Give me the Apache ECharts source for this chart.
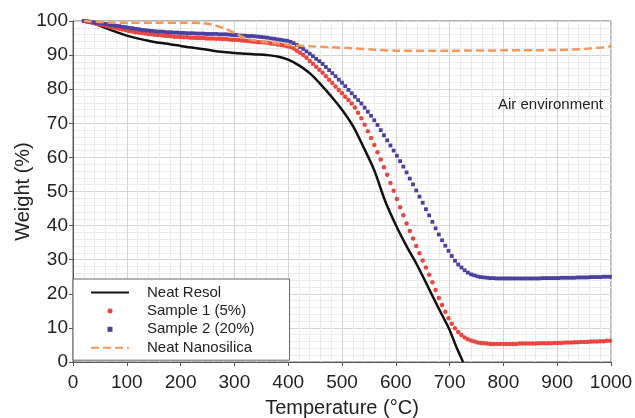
<!DOCTYPE html>
<html>
<head>
<meta charset="utf-8">
<script src="https://cdn.jsdelivr.net/npm/echarts@6/dist/echarts.min.js"></script>
<style>
  html, body { margin: 0; padding: 0; background: #fff; }
  #chart { width: 635px; height: 418px; }
</style>
</head>
<body>
<div id="chart"></div>
<script>
// Thermogravimetric curves in air: weight (%) versus temperature (°C)

const seriesNames = ['Neat Resol', 'Sample 1 (5%)', 'Sample 2 (20%)', 'Neat Nanosilica'];

// Neat resol (solid line)
const resolTemp = [20, 40, 60, 80, 100, 120, 140, 160, 180, 200, 220, 240, 260, 280, 300, 320, 340, 360, 380, 400,
  420, 440, 460, 480, 500, 520, 540, 560, 580, 600, 620, 640, 660, 680, 700, 712, 725];
const resolWeight = [100, 99.2, 98.0, 96.8, 95.7, 94.9, 94.2, 93.6, 93.2, 92.7, 92.2, 91.8, 91.3, 90.9, 90.6, 90.4, 90.2, 90.0, 89.6, 88.7,
  87.0, 84.7, 81.5, 77.9, 74.0, 69.3, 63.0, 56.2, 47.3, 40.2, 34.0, 28.3, 22.0, 15.6, 9.4, 4.6, 0];

// Neat nanosilica (dashed line)
const silicaTemp = [20, 40, 60, 80, 100, 150, 200, 240, 260, 280, 300, 320, 340, 360, 380, 400, 440, 480, 520, 560,
  600, 700, 800, 900, 950, 980, 1000];
const silicaWeight = [100, 99.8, 99.6, 99.5, 99.5, 99.5, 99.5, 99.4, 98.9, 97.9, 96.5, 95.0, 94.2, 93.7, 93.4, 93.0, 92.6, 92.3, 92.0, 91.6,
  91.3, 91.3, 91.4, 91.5, 91.8, 92.2, 92.6];

// Composite samples are recorded every 6 °C from 20 °C to 998 °C
const sampleStart = 20, sampleStep = 6;
const sample1Weight = [
  100.0, 99.8, 99.6, 99.4, 99.2, 99.0, 98.8, 98.5, 98.3, 98.1,
  97.9, 97.7, 97.5, 97.3, 97.1, 96.9, 96.7, 96.6, 96.5, 96.3,
  96.2, 96.1, 96.0, 95.9, 95.8, 95.7, 95.6, 95.5, 95.4, 95.4,
  95.3, 95.2, 95.2, 95.1, 95.1, 95.0, 95.0, 95.0, 94.9, 94.9,
  94.9, 94.8, 94.8, 94.7, 94.7, 94.6, 94.5, 94.5, 94.4, 94.3,
  94.2, 94.1, 94.0, 93.9, 93.8, 93.8, 93.7, 93.6, 93.4, 93.3,
  93.1, 93.0, 92.8, 92.6, 92.4, 91.9, 91.3, 90.7, 90.0, 89.2,
  88.3, 87.5, 86.6, 85.7, 84.8, 83.8, 82.8, 81.8, 80.8, 79.8,
  78.8, 77.8, 76.8, 75.8, 74.6, 73.1, 71.5, 69.6, 67.7, 65.7,
  63.6, 61.5, 59.4, 57.1, 54.9, 52.5, 50.2, 47.8, 45.4, 43.0,
  40.6, 38.4, 36.2, 34.0, 31.9, 29.8, 27.7, 25.6, 23.4, 21.1,
  18.8, 16.7, 14.7, 12.8, 11.2, 9.9, 8.8, 7.9, 7.2, 6.7,
  6.3, 6.0, 5.7, 5.6, 5.5, 5.4, 5.3, 5.3, 5.3, 5.3,
  5.3, 5.3, 5.3, 5.3, 5.3, 5.4, 5.4, 5.4, 5.4, 5.4,
  5.4, 5.5, 5.5, 5.5, 5.5, 5.5, 5.6, 5.6, 5.6, 5.7,
  5.7, 5.7, 5.8, 5.8, 5.9, 5.9, 5.9, 6.0, 6.0, 6.0,
  6.1, 6.1, 6.2, 6.2
];
const sample2Weight = [
  100.0, 99.9, 99.8, 99.6, 99.5, 99.4, 99.2, 99.1, 98.9, 98.8,
  98.6, 98.5, 98.3, 98.2, 98.0, 97.9, 97.7, 97.6, 97.4, 97.3,
  97.2, 97.1, 97.0, 96.9, 96.9, 96.8, 96.7, 96.7, 96.6, 96.6,
  96.5, 96.5, 96.4, 96.4, 96.4, 96.3, 96.3, 96.3, 96.2, 96.2,
  96.2, 96.2, 96.1, 96.1, 96.1, 96.0, 95.9, 95.9, 95.8, 95.7,
  95.7, 95.6, 95.6, 95.5, 95.4, 95.3, 95.2, 95.1, 94.9, 94.8,
  94.6, 94.5, 94.3, 94.2, 93.9, 93.5, 93.0, 92.4, 91.8, 91.1,
  90.4, 89.7, 88.9, 88.2, 87.4, 86.5, 85.6, 84.7, 83.8, 82.8,
  81.9, 80.9, 79.8, 78.8, 77.8, 76.8, 75.8, 74.6, 73.4, 72.2,
  70.9, 69.5, 68.0, 66.5, 65.0, 63.5, 62.0, 60.5, 58.9, 57.3,
  55.6, 53.8, 52.1, 50.3, 48.5, 46.7, 44.8, 43.0, 41.1, 39.2,
  37.4, 35.7, 34.1, 32.6, 31.1, 29.7, 28.6, 27.7, 26.9, 26.2,
  25.7, 25.4, 25.1, 24.9, 24.8, 24.7, 24.6, 24.6, 24.5, 24.5,
  24.5, 24.5, 24.5, 24.5, 24.5, 24.5, 24.5, 24.5, 24.5, 24.5,
  24.5, 24.5, 24.6, 24.6, 24.6, 24.6, 24.6, 24.6, 24.7, 24.7,
  24.7, 24.7, 24.7, 24.8, 24.8, 24.8, 24.8, 24.9, 24.9, 24.9,
  24.9, 25.0, 25.0, 25.0
];

const xTicks = { min: 0, max: 1000, interval: 100 };
const yTicks = { min: 0, max: 100, interval: 10 };
const annotation = 'Air environment';

const FONT = '"Liberation Sans", Arial, Helvetica, sans-serif';
const HIDDEN_SYMBOL = { color: 'rgba(0,0,0,0)', borderWidth: 0 };

function pair(temps, weights) {
  return weights.map((w, i) => [temps[i], w]);
}
function sampled(weights) {
  return weights.map((w, i) => [sampleStart + i * sampleStep, w]);
}

const chart = echarts.init(document.getElementById('chart'), null, { renderer: 'canvas' });

chart.setOption({
  animation: false,
  backgroundColor: '#fff',
  textStyle: { fontFamily: FONT },
  title: {
    text: annotation,
    right: 32, top: 97, padding: 0,
    textStyle: { fontSize: 15, fontWeight: 'normal', color: '#222', fontFamily: FONT }
  },
  grid: {
    left: 73, right: 24, top: 21, bottom: 56,
    outerBoundsMode: 'none', containLabel: false,
    show: true, borderColor: '#666', borderWidth: 1, backgroundColor: 'transparent'
  },
  xAxis: {
    type: 'value',
    min: xTicks.min, max: xTicks.max, interval: xTicks.interval,
    name: 'Temperature (°C)', nameLocation: 'middle', nameGap: 36, nameMoveOverlap: false,
    nameTextStyle: { fontSize: 20, color: '#222', fontFamily: FONT },
    axisLine: { show: true, lineStyle: { color: '#555', width: 1 } },
    axisTick: { show: true, length: 4, lineStyle: { color: '#555' } },
    axisLabel: { fontSize: 19, color: '#222', margin: 11, fontFamily: FONT, formatter: v => String(v) },
    splitLine: { show: true, lineStyle: { color: '#d4d4d4', width: 1 } },
    minorTick: { show: false, splitNumber: 5 },
    minorSplitLine: { show: true, lineStyle: { color: '#ececec', width: 1 } }
  },
  yAxis: {
    type: 'value',
    min: yTicks.min, max: yTicks.max, interval: yTicks.interval,
    name: 'Weight (%)', nameLocation: 'middle', nameGap: 40, nameMoveOverlap: false,
    nameTextStyle: { fontSize: 20, color: '#222', fontFamily: FONT },
    axisLine: { show: true, lineStyle: { color: '#555', width: 1 } },
    axisTick: { show: true, length: 4, lineStyle: { color: '#555' } },
    axisLabel: { fontSize: 19, color: '#222', margin: 5, fontFamily: FONT, formatter: v => String(v) },
    splitLine: { show: true, lineStyle: { color: '#d4d4d4', width: 1 } },
    minorTick: { show: false, splitNumber: 5 },
    minorSplitLine: { show: true, lineStyle: { color: '#ececec', width: 1 } }
  },
  legend: {
    orient: 'vertical',
    left: 73, top: 279,
    padding: [6, 35, 5, 17],
    itemWidth: 38, itemHeight: 5, itemGap: 3.4,
    symbolKeepAspect: true,
    backgroundColor: '#fff', borderColor: '#666', borderWidth: 1, borderRadius: 0,
    textStyle: { fontSize: 15, lineHeight: 15, color: '#222', fontFamily: FONT, padding: [0, 0, 0, 13] },
    data: [
      { name: seriesNames[0], itemStyle: HIDDEN_SYMBOL },
      { name: seriesNames[1], icon: 'circle' },
      { name: seriesNames[2], icon: 'path://M0,0L10,0L10,10L0,10Z' },
      { name: seriesNames[3], itemStyle: HIDDEN_SYMBOL }
    ]
  },
  series: [
    {
      name: seriesNames[0], type: 'line', data: pair(resolTemp, resolWeight),
      showSymbol: false, symbol: 'none', smooth: 0.3,
      lineStyle: { color: '#111', width: 2.5 }, itemStyle: { color: '#111' }, z: 2
    },
    {
      name: seriesNames[1], type: 'scatter', data: sampled(sample1Weight),
      symbol: 'circle', symbolSize: 4.5,
      itemStyle: { color: '#e8463e', opacity: 1 }, z: 3
    },
    {
      name: seriesNames[2], type: 'scatter', data: sampled(sample2Weight),
      symbol: 'rect', symbolSize: 3.8,
      itemStyle: { color: '#4a40a2', opacity: 1 }, z: 4
    },
    {
      name: seriesNames[3], type: 'line', data: pair(silicaTemp, silicaWeight),
      showSymbol: false, symbol: 'none', smooth: 0.3,
      lineStyle: { color: '#f2975e', width: 2.5, type: [8, 4] }, itemStyle: { color: '#f2975e' }, z: 5
    }
  ]
});
</script>
</body>
</html>
